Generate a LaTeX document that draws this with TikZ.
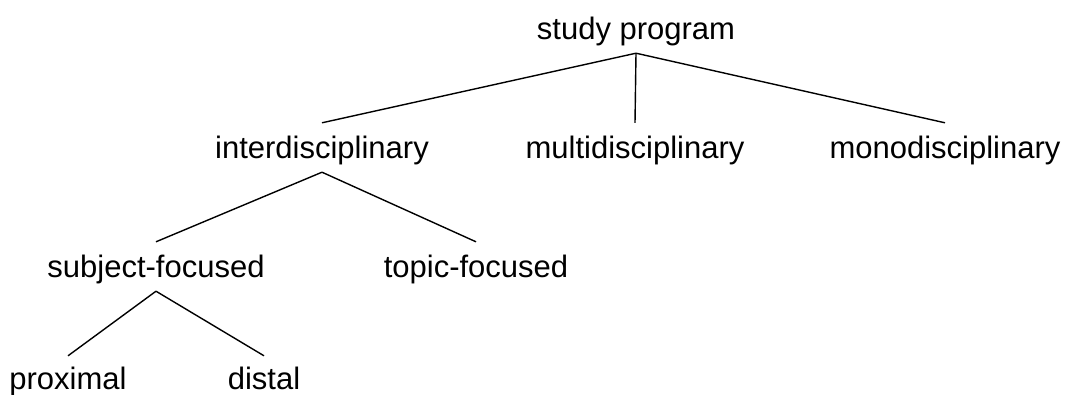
\documentclass[tikz,border=0pt]{standalone}
\usepackage{fontspec}
\setmainfont{Liberation Sans}

\begin{document}
\begin{tikzpicture}[x=1pt,y=-1pt,
    term/.style={anchor=base,inner sep=0pt,text height=35pt,text depth=14pt,font=\fontsize{31}{36}\selectfont},
    branch/.style={line width=1.4pt}]
  \useasboundingbox (0,0) rectangle (1065,394);

  \node[term] (program) at (636,39) {study program};

  \node[term] (inter) at (322,158) {interdisciplinary};
  \node[term] (multi) at (635,158) {multidisciplinary};
  \node[term] (mono) at (945,158) {monodisciplinary};

  \node[term] (subject) at (156,277) {subject-focused};
  \node[term] (topic) at (476,277) {topic-focused};

  \node[term,text height=33pt] (proximal) at (68,389) {proximal};
  \node[term,text height=33pt] (distal) at (264,389) {distal};

  \foreach \child in {inter,multi,mono}
    \draw[branch] (program.south) -- (\child.north);
  \foreach \child in {subject,topic}
    \draw[branch] (inter.south) -- (\child.north);
  \foreach \child in {proximal,distal}
    \draw[branch] (subject.south) -- (\child.north);
\end{tikzpicture}
\end{document}
